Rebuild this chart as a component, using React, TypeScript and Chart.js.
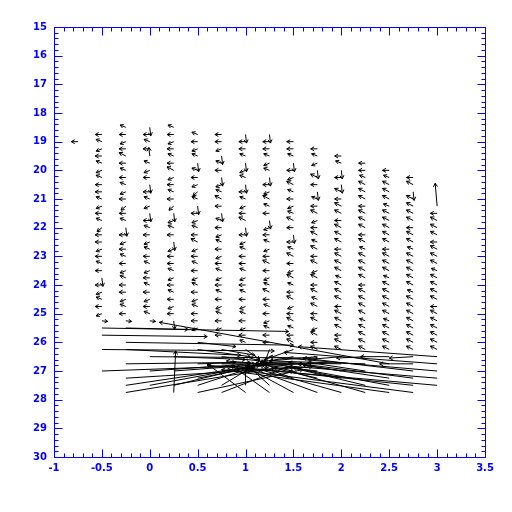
import React, { useEffect, useRef } from "react";
import { Chart, registerables } from "chart.js";

Chart.register(...registerables);

// ---- axes ----
const X_MIN = -1;
const X_MAX = 3.5;
const X_MAJOR = 0.5;
const X_MINOR = 0.1;
const Y_MIN = 15;
const Y_MAX = 30;
const Y_MAJOR = 1;
const Y_MINOR = 0.2;

// ---- vector grid ----
const STEP = 0.25;
const HEAD_PX = 4;
const HEAD_ANGLE = 30;

const COLUMN_X = [-0.75, -0.5, -0.25, 0, 0.25, 0.5, 0.75, 1, 1.25, 1.5, 1.75, 2, 2.25, 2.5, 2.75, 3];
const COLUMN_TOP = [19, 18.75, 18.5, 18.5, 18.5, 18.75, 18.75, 18.75, 18.75, 19, 19.25, 19.5, 19.75, 20, 20.25, 21.25];

// [u, v] per grid node, top row first
const VEC_XM075 = [[-0.07, 0]];
const VEC_XM050 = [[-0.07,0],[-0.06,-0.08],[-0.06,0.08],[-0.07,0],[-0.06,-0.08],[-0.06,0.08],[-0.06,-0.08],[-0.07,0],[-0.07,0],[-0.06,-0.08],[-0.06,0.08],[-0.07,0],[-0.06,-0.08],[-0.05,0.14],[-0.07,0],[-0.07,0],[-0.06,0.08],[-0.07,0],[-0.06,-0.08],[-0.07,0],[0.01,0.3],[-0.07,0],[-0.06,0.08],[-0.06,-0.08],[-0.07,0],[-0.06,0.08],[0.06,0.02]];
const VEC_XM025 = [[-0.06,-0.08],[-0.07,0],[-0.06,0.08],[-0.07,0],[-0.07,-0.12],[-0.07,0],[-0.06,-0.08],[-0.07,0],[-0.06,-0.08],[-0.06,0.08],[-0.07,0],[-0.05,0.14],[-0.07,0],[-0.06,-0.08],[0.01,0.3],[-0.07,0],[-0.06,0.08],[-0.07,0],[-0.06,-0.08],[-0.07,0],[-0.06,0.08],[-0.06,-0.08],[-0.07,0],[-0.07,0],[-0.06,0.08],[-0.06,-0.08],[-0.07,0],[0.06,0.02]];
const VEC_X000 = [[0.01,0.3],[-0.07,0],[-0.06,-0.08],[-0.07,0],[-0.01,-0.3],[-0.06,-0.08],[-0.06,0.08],[-0.07,0],[0.01,0.3],[-0.07,0],[-0.06,-0.08],[-0.06,0.08],[0.01,0.3],[-0.07,0],[-0.06,-0.08],[-0.07,0],[-0.06,0.08],[-0.06,-0.08],[-0.07,0],[-0.06,-0.08],[-0.06,0.08],[-0.07,0],[-0.06,-0.08],[-0.07,0],[-0.06,0.08],[-0.07,0],[-0.06,-0.08],[0.06,0.02]];
const VEC_X025 = [[-0.06,-0.08],[-0.07,0],[-0.06,0.08],[-0.07,0],[-0.06,-0.08],[-0.07,0],[-0.07,-0.12],[-0.06,0.08],[-0.07,0],[-0.06,-0.08],[-0.07,0],[-0.05,0.14],[0.01,0.3],[-0.06,0.08],[-0.06,-0.08],[-0.07,0],[0.01,0.3],[-0.06,0.08],[-0.07,0],[-0.07,0],[-0.06,-0.08],[-0.06,0.08],[-0.07,0],[-0.06,-0.08],[-0.07,0],[-0.06,0.08],[-0.07,0],[0.01,0.3]];
const VEC_X050 = [[-0.06,-0.08],[-0.07,0],[-0.06,0.08],[-0.06,-0.08],[0.01,0.3],[-0.06,-0.08],[-0.07,0],[-0.06,0.08],[-0.05,0.14],[-0.06,-0.08],[0.01,0.3],[-0.07,0],[-0.06,0.08],[-0.06,-0.08],[-0.07,0],[-0.07,-0.12],[-0.06,0.08],[-0.07,0],[-0.06,-0.08],[-0.07,0],[-0.06,0.08],[-0.06,-0.08],[-0.07,0],[-0.06,0.08],[-0.06,-0.08],[-0.07,0],[-0.07,0],[-0.06,0.08]];
const VEC_X075 = [[-0.07,0],[-0.07,0],[-0.06,0.08],[0.01,0.3],[-0.06,-0.08],[-0.07,0],[0.01,0.3],[-0.06,0.08],[-0.06,-0.08],[-0.07,-0.12],[-0.07,0],[0.01,0.3],[-0.06,-0.08],[-0.07,0],[-0.06,0.08],[-0.06,-0.08],[-0.07,0],[-0.06,0.08],[-0.07,0],[-0.06,-0.08],[-0.06,0.08],[-0.07,0],[-0.06,-0.08],[-0.07,0],[-0.06,0.08],[-0.06,-0.08],[-0.07,0],[-0.06,0.08],[-0.07,0]];
const VEC_X100 = [[0.01,0.3],[-0.07,0],[-0.07,0],[-0.06,-0.08],[0.01,0.3],[-0.06,0.08],[-0.06,-0.08],[0.01,0.3],[-0.07,0],[-0.06,-0.08],[-0.06,0.08],[-0.07,0],[-0.07,-0.12],[0.01,0.3],[-0.07,0],[-0.06,0.08],[-0.06,-0.08],[-0.07,0],[-0.07,0],[-0.06,-0.08],[-0.06,0.08],[-0.07,0],[-0.06,-0.08],[-0.07,0],[-0.06,0.08],[-0.06,-0.08],[-0.07,0],[-0.06,0.08],[-0.07,0],[-0.06,-0.08]];
const VEC_X125 = [[0.01,0.3],[-0.07,0],[-0.07,0],[-0.06,-0.08],[-0.06,0.08],[-0.06,-0.08],[0.01,0.3],[-0.07,0],[-0.06,0.08],[-0.07,-0.12],[-0.06,-0.08],[-0.07,0],[0.01,0.3],[-0.06,0.08],[-0.07,0],[-0.06,-0.08],[-0.06,0.08],[-0.07,0],[-0.07,-0.12],[-0.07,0],[-0.06,0.08],[-0.06,-0.08],[-0.07,-0.12],[-0.07,0],[-0.06,-0.08],[-0.07,0],[-0.06,0.08],[-0.06,-0.08],[-0.07,0],[-0.07,0]];
const VEC_X150 = [[-0.07,0],[-0.07,0],[-0.06,-0.08],[0.01,0.3],[-0.07,0],[-0.06,0.08],[-0.07,-0.12],[-0.06,-0.08],[-0.07,0],[-0.06,0.08],[-0.06,-0.08],[-0.07,-0.12],[-0.07,0],[0.01,0.3],[-0.07,0],[-0.06,-0.08],[-0.07,-0.12],[-0.07,0],[-0.06,0.08],[-0.07,-0.12],[-0.06,-0.08],[-0.07,0],[-0.07,-0.12],[-0.06,0.08],[-0.07,0],[-0.07,-0.12],[-0.06,-0.08],[-0.07,0],[-0.07,-0.12]];
const VEC_X175 = [[-0.07,0],[-0.06,-0.08],[-0.06,0.08],[0.01,0.3],[-0.07,-0.12],[-0.07,0],[0.01,0.3],[-0.06,-0.08],[-0.07,0],[-0.07,-0.12],[-0.06,0.08],[-0.07,0],[-0.07,-0.12],[-0.06,-0.08],[-0.07,-0.12],[-0.07,0],[-0.07,-0.12],[-0.06,0.08],[-0.07,-0.12],[-0.07,0],[-0.07,-0.12],[-0.06,-0.08],[-0.07,-0.12],[-0.07,0],[-0.07,-0.12],[-0.06,0.08],[-0.07,-0.12],[-0.07,0],[-0.07,-0.12]];
const VEC_X200 = [[-0.07,0],[-0.06,-0.08],[0.01,0.3],[-0.07,0],[0.01,0.3],[-0.07,-0.12],[-0.07,0],[-0.07,-0.12],[-0.07,-0.12],[-0.07,0],[-0.07,-0.12],[-0.07,-0.12],[-0.07,-0.12],[-0.07,0],[-0.07,-0.12],[-0.07,-0.12],[-0.07,-0.12],[-0.06,-0.08],[-0.07,-0.12],[-0.07,-0.12],[-0.07,-0.12],[-0.07,0],[-0.07,-0.12],[-0.07,-0.12],[-0.07,-0.12],[-0.07,0],[-0.07,-0.12],[-0.07,-0.12]];
const VEC_X225 = [[-0.07,0],[-0.07,0],[-0.06,-0.08],[-0.07,-0.12],[-0.07,-0.12],[-0.07,-0.12],[-0.07,0],[-0.07,-0.12],[-0.07,-0.12],[-0.07,-0.12],[-0.07,0],[-0.07,-0.12],[-0.06,-0.08],[-0.07,-0.12],[-0.07,-0.12],[-0.07,-0.12],[-0.07,-0.12],[-0.07,0],[-0.07,-0.12],[-0.07,-0.12],[-0.07,-0.12],[-0.07,-0.12],[-0.06,-0.08],[-0.07,-0.12],[-0.07,-0.12],[-0.07,-0.12],[-0.07,-0.12]];
const VEC_X250 = [[-0.07,0],[-0.06,-0.08],[-0.07,-0.12],[-0.07,-0.12],[-0.07,-0.12],[-0.06,-0.08],[-0.07,-0.12],[-0.07,-0.12],[-0.07,-0.12],[-0.07,-0.12],[-0.07,-0.12],[-0.07,0],[-0.07,-0.12],[-0.07,-0.12],[-0.07,-0.12],[-0.06,-0.08],[-0.07,-0.12],[-0.07,-0.12],[-0.07,-0.12],[-0.07,-0.12],[-0.07,-0.12],[-0.06,-0.08],[-0.07,-0.12],[-0.07,-0.12],[-0.07,-0.12],[-0.07,-0.12]];
const VEC_X275 = [[-0.07,0],[-0.07,-0.12],[0.01,0.3],[-0.07,-0.12],[-0.07,-0.12],[-0.07,-0.12],[-0.07,-0.12],[-0.07,0],[-0.07,-0.12],[-0.07,-0.12],[-0.06,-0.08],[-0.07,-0.12],[-0.07,-0.12],[-0.07,-0.12],[-0.07,-0.12],[-0.07,-0.12],[-0.06,-0.08],[-0.07,-0.12],[-0.07,-0.12],[-0.07,-0.12],[-0.07,-0.12],[-0.07,-0.12],[-0.07,-0.12],[-0.07,-0.12],[-0.07,-0.12]];
const VEC_X300 = [[-0.02,-0.8],[-0.07,0],[-0.07,-0.12],[-0.07,-0.12],[-0.07,-0.12],[-0.07,0],[-0.07,-0.12],[-0.07,-0.12],[-0.07,-0.12],[-0.06,-0.08],[-0.07,-0.12],[-0.07,-0.12],[-0.07,-0.12],[-0.07,-0.12],[-0.07,0],[-0.07,-0.12],[-0.07,-0.12],[-0.07,-0.12],[-0.07,-0.12],[-0.07,-0.12],[-0.07,-0.12]];

const COLUMN_VECTORS = [VEC_XM075, VEC_XM050, VEC_XM025, VEC_X000, VEC_X025, VEC_X050, VEC_X075, VEC_X100, VEC_X125, VEC_X150, VEC_X175, VEC_X200, VEC_X225, VEC_X250, VEC_X275, VEC_X300];

// faint-end vectors: start node + components
const LONG_X0 = [-0.5, -0.5, -0.25, -0.25, -0.5, -0.25, 0, -0.5, -0.25, -0.25, -0.25, -0.25, 0.25, 0.5, 0.75, 1, 1.25, 1.5, 1.75, 2, 2.25, 2.5, 2.75, 3, 3, 3, 3, 3, 2.75, 2.75, 2.75, 2.5, 2.5, 2.5, 2.25, 2.25, 2, 2, 1.75, 1.5, 1.25, 1, 0.75, 0.5, 0.25, 0, 0, 0.25, 0.5, 0.25, 0.5, 0.75, 0.5, 0.75, 0.5, 0.75, 0.75, 1, 1, 1, 1, 1.25, 1.25, 1.25, 1.25, 1.5, 1.5, 1.5, 1.5, 1.75, 1.75, 1.75, 2, 2, 2.25, 2.25, 2.5, 2.75, 2.75];
const LONG_Y0 = [25.5, 25.75, 25.5, 26, 26.25, 26.25, 26.5, 27, 26.75, 27.25, 27.5, 27.75, 27.75, 27.75, 27.75, 27.75, 27.75, 27.75, 27.75, 27.75, 27.75, 27.75, 27.75, 26.5, 26.75, 27, 27.25, 27.5, 27.5, 27.25, 27, 27.5, 27.25, 26.75, 27.5, 27, 27.25, 27, 27.25, 27.25, 27.5, 27.5, 27.5, 27.5, 27.5, 27.5, 27, 27, 27.25, 26.5, 26, 26.25, 26.25, 26.5, 26.75, 26.75, 27, 26.25, 26.5, 26.75, 27, 26.25, 26.5, 26.75, 27, 26.25, 26.5, 26.75, 27, 26.5, 26.75, 27, 26.5, 26.75, 26.5, 26.75, 26.5, 26.5, 26.75];
const LONG_U = [1.95, 1.1, 0.65, 1.75, 1.8, 1.2, 1.75, 2.1, 1.15, 1.95, 1.1, 1.55, 0.02, 1.1, 0.7, -0.4, -0.4, -0.5, -0.7, -0.85, -0.8, -1.75, -1.75, -1.45, -1.6, -1.75, -2.2, -2.4, -1.85, -1.3, -1.15, -1.05, -0.9, -2.4, -0.75, -0.6, -0.55, -0.45, -0.45, -0.3, -0.2, 0, 0.3, 0.55, 0.8, 1.05, 1.05, 0.8, 0.7, 0.75, 0.4, 0.35, 0.55, 0.4, 0.55, 0.35, 0.4, 0.15, 0.2, 0.15, 0.1, -0.05, -0.1, -0.15, -0.1, -0.3, -0.35, -0.4, -0.3, -0.5, -0.6, -0.55, -0.35, -0.85, -0.3, -1, -0.3, -0.25, -0.35];
const LONG_V = [0.12, 0.05, 0.05, 0.1, 0.05, 0.2, 0.05, -0.25, -0.05, -0.4, -0.55, -0.85, -1.45, -0.8, -0.9, -1, -0.95, -0.9, -0.85, -0.8, -0.75, -0.8, -0.75, -0.35, -0.4, -0.5, -0.6, -0.7, -0.65, -0.55, -0.45, -0.65, -0.45, -1.45, -0.6, -0.3, -0.4, -0.25, -0.35, -0.35, -0.6, -0.65, -0.6, -0.6, -0.65, -0.65, -0.25, -0.2, -0.45, 0.1, 0.15, 0.2, 0.25, 0.15, -0.05, 0, -0.2, 0.35, 0.2, 0, -0.2, 0.45, 0.25, 0, -0.25, 0.35, 0.2, 0, -0.2, 0.15, 0, -0.2, 0.1, -0.05, 0.05, -0.1, 0, 0.05, 0];

const AXIS_BLUE = "#0000ff";

type Arrow = { x0: number; y0: number; x1: number; y1: number };

function buildArrows(): Arrow[] {
  const out: Arrow[] = [];
  COLUMN_X.forEach((cx, c) => {
    COLUMN_VECTORS[c].forEach(([u, v], i) => {
      const y0 = COLUMN_TOP[c] + i * STEP;
      out.push({ x0: cx, y0, x1: cx + u, y1: y0 + v });
    });
  });
  LONG_X0.forEach((x0, i) => {
    out.push({ x0, y0: LONG_Y0[i], x1: x0 + LONG_U[i], y1: LONG_Y0[i] + LONG_V[i] });
  });
  return out;
}

const ARROWS = buildArrows();

function stemPoints() {
  const pts: { x: number; y: number | null }[] = [];
  ARROWS.forEach((a) => {
    pts.push({ x: a.x0, y: a.y0 }, { x: a.x1, y: a.y1 }, { x: a.x1, y: null });
  });
  return pts;
}

const headPlugin = {
  id: "arrowHeads",
  afterDatasetsDraw(chart: any) {
    const { ctx, scales, chartArea } = chart;
    const xs = scales.x;
    const ys = scales.y;
    const rad = (HEAD_ANGLE * Math.PI) / 180;
    ctx.save();
    ctx.beginPath();
    ctx.rect(chartArea.left, chartArea.top, chartArea.right - chartArea.left, chartArea.bottom - chartArea.top);
    ctx.clip();
    ctx.strokeStyle = "#000000";
    ctx.lineWidth = 1;
    ctx.beginPath();
    ARROWS.forEach((a) => {
      const px0 = xs.getPixelForValue(a.x0);
      const py0 = ys.getPixelForValue(a.y0);
      const px1 = xs.getPixelForValue(a.x1);
      const py1 = ys.getPixelForValue(a.y1);
      const dx = px1 - px0;
      const dy = py1 - py0;
      const len = Math.hypot(dx, dy);
      if (len < 0.5) return;
      const h = Math.min(HEAD_PX, len * 0.6);
      const ang = Math.atan2(dy, dx);
      ctx.moveTo(px1 - h * Math.cos(ang - rad), py1 - h * Math.sin(ang - rad));
      ctx.lineTo(px1, py1);
      ctx.lineTo(px1 - h * Math.cos(ang + rad), py1 - h * Math.sin(ang + rad));
    });
    ctx.stroke();
    ctx.restore();
  },
};

const framePlugin = {
  id: "idlFrame",
  afterDraw(chart: any) {
    const { ctx, chartArea, scales } = chart;
    const xs = scales.x;
    const ys = scales.y;
    const L = Math.round(chartArea.left) + 0.5;
    const R = Math.round(chartArea.right) + 0.5;
    const T = Math.round(chartArea.top) + 0.5;
    const B = Math.round(chartArea.bottom) + 0.5;
    ctx.save();
    ctx.strokeStyle = AXIS_BLUE;
    ctx.lineWidth = 1;
    ctx.beginPath();
    ctx.rect(L, T, R - L, B - T);
    const nx = Math.round((X_MAX - X_MIN) / X_MINOR);
    const perX = Math.round(X_MAJOR / X_MINOR);
    for (let k = 0; k <= nx; k++) {
      const px = Math.round(xs.getPixelForValue(X_MIN + k * X_MINOR)) + 0.5;
      const len = k % perX === 0 ? 8 : 4;
      ctx.moveTo(px, B);
      ctx.lineTo(px, B - len);
      ctx.moveTo(px, T);
      ctx.lineTo(px, T + len);
    }
    const ny = Math.round((Y_MAX - Y_MIN) / Y_MINOR);
    const perY = Math.round(Y_MAJOR / Y_MINOR);
    for (let k = 0; k <= ny; k++) {
      const py = Math.round(ys.getPixelForValue(Y_MIN + k * Y_MINOR)) + 0.5;
      const len = k % perY === 0 ? 8 : 4;
      ctx.moveTo(L, py);
      ctx.lineTo(L + len, py);
      ctx.moveTo(R, py);
      ctx.lineTo(R - len, py);
    }
    ctx.stroke();
    ctx.restore();
  },
};

const fmt = (v: any) => String(Number(Number(v).toFixed(2)));

export default function App() {
  const canvasRef = useRef<HTMLCanvasElement | null>(null);

  useEffect(() => {
    const canvas = canvasRef.current;
    if (!canvas) return;
    const font = { family: "DejaVu Sans", size: 10, weight: "bold" as const };
    const chart = new Chart(canvas, {
      type: "scatter",
      data: {
        datasets: [
          {
            data: stemPoints() as any,
            showLine: true,
            borderColor: "#000000",
            borderWidth: 1,
            pointRadius: 0,
            pointHoverRadius: 0,
            spanGaps: false,
            tension: 0,
          },
        ],
      },
      options: {
        animation: false,
        responsive: false,
        maintainAspectRatio: false,
        events: [],
        layout: { padding: { top: 27, right: 27, left: 0, bottom: 0 } },
        plugins: { legend: { display: false }, tooltip: { enabled: false } },
        scales: {
          x: {
            type: "linear",
            min: X_MIN,
            max: X_MAX,
            grid: { display: false, drawTicks: false },
            border: { display: false },
            ticks: { stepSize: X_MAJOR, color: AXIS_BLUE, font, padding: 5, autoSkip: false, maxRotation: 0, callback: fmt },
            afterFit: (s: any) => {
              s.height = 55;
            },
          },
          y: {
            type: "linear",
            reverse: true,
            min: Y_MIN,
            max: Y_MAX,
            grid: { display: false, drawTicks: false },
            border: { display: false },
            ticks: { stepSize: Y_MAJOR, color: AXIS_BLUE, font, padding: 7, autoSkip: false, callback: fmt },
            afterFit: (s: any) => {
              s.width = 54;
            },
          },
        },
      },
      plugins: [headPlugin, framePlugin],
    });
    return () => chart.destroy();
  }, []);

  return (
    <div style={{ position: "fixed", left: 0, top: 0, width: 512, height: 512, background: "#ffffff" }}>
      <canvas ref={canvasRef} width={512} height={512} style={{ display: "block" }} />
    </div>
  );
}
